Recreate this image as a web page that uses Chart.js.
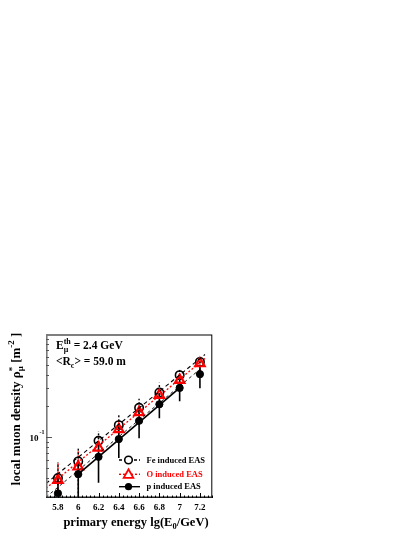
<!DOCTYPE html>
<html>
<head>
<meta charset="utf-8">
<script src="https://cdn.jsdelivr.net/npm/chart.js@4.4.1/dist/chart.umd.min.js"></script>
<style>
html,body{margin:0;padding:0;background:#fff;}
canvas{display:block;}
</style>
</head>
<body>
<canvas id="c" width="415" height="537"></canvas>
<script>
// ---------------- data ----------------
const energies = [5.8, 6.0, 6.2, 6.4, 6.6, 6.8, 7.0, 7.2];

const feValues = [0.0403, 0.0585, 0.0927, 0.1316, 0.194, 0.273, 0.403, 0.542];
const feUpper  = [0.057, 0.081, 0.115, 0.168, 0.237, 0.339, 0.460, 0.615];
const feLower  = [0.036, 0.052, 0.080, 0.120, 0.176, 0.258, 0.362, 0.524];

const oValues  = [0.0385, 0.0519, 0.0793, 0.1196, 0.175, 0.257, 0.360, 0.523];
const oUpper   = [0.058, 0.075, 0.100, 0.149, 0.214, 0.299, 0.418, 0.584];
const oLower   = [0.020, 0.020, 0.062, 0.098, 0.150, 0.215, 0.310, 0.440];

const pValues  = [0.0286, 0.044, 0.0648, 0.0963, 0.145, 0.210, 0.303, 0.412];
const pUpper   = [0.040, 0.060, 0.088, 0.130, 0.190, 0.270, 0.380, 0.510];
const pLower   = [0.020, 0.020, 0.0362, 0.063, 0.098, 0.154, 0.225, 0.301];

// fitted lines (end points)
const feFitX = [5.682, 7.25];  const feFitY = [0.0357, 0.640];
const oFitX  = [5.682, 7.25];  const oFitY  = [0.0320, 0.585];
const lowFitX = [5.682, 7.21]; const lowFitY = [0.0263, 0.468];
const pLineX = [6.0, 7.0];     const pLineY = [0.044, 0.303];

// axes
const xMin = 5.682, xMax = 7.322;
const yMin = 0.0258, yMax = 1.0;
const xTickValues = [5.8, 6.0, 6.2, 6.4, 6.6, 6.8, 7.0, 7.2];
const xTickLabels = ['5.8', '6', '6.2', '6.4', '6.6', '6.8', '7', '7.2'];
const yMajorTicks = [0.1];
const yMinorTicks = [0.03,0.04,0.05,0.06,0.07,0.08,0.09,0.2,0.3,0.4,0.5,0.6,0.7,0.8,0.9];

const legendLabels = ['Fe induced EAS', 'O induced EAS', 'p induced EAS'];

// ---------------- helpers ----------------
function pts(xs, ys){ return xs.map((x,i)=>({x:x, y:ys[i]})); }
const SERIF = '"Liberation Serif","DejaVu Serif",serif';
function f(sz){ return 'bold ' + sz + 'px ' + SERIF; }

function richWidth(ctx, segs){
  let w = 0;
  segs.forEach(s=>{
    if (s.stack){ let m=0; s.stack.forEach(q=>{ctx.font=f(q.sz); m=Math.max(m, ctx.measureText(q.t).width);}); w+=m; }
    else { ctx.font=f(s.sz); w += ctx.measureText(s.t).width; }
  });
  return w;
}
function drawRich(ctx, x, y, segs, color){
  ctx.fillStyle = color || '#000';
  ctx.textAlign = 'left';
  ctx.textBaseline = 'alphabetic';
  let cx = x;
  segs.forEach(s=>{
    if (s.stack){
      let m=0;
      s.stack.forEach(q=>{ ctx.font=f(q.sz); ctx.fillText(q.t, cx, y+q.dy); m=Math.max(m, ctx.measureText(q.t).width); });
      cx += m;
    } else {
      ctx.font=f(s.sz); ctx.fillText(s.t, cx, y+(s.dy||0)); cx += ctx.measureText(s.t).width;
    }
  });
}

// ---------------- plugins ----------------
const errorBarPlugin = {
  id: 'errbars',
  beforeDatasetsDraw(chart){
    const ctx = chart.ctx, xs = chart.scales.x, ys = chart.scales.y, a = chart.chartArea;
    ctx.save();
    ctx.beginPath(); ctx.rect(a.left, a.top, a.right-a.left, a.bottom-a.top); ctx.clip();
    const groups = [
      {lo:oLower, hi:oUpper, color:'#ff0000', dash:[2,2], w:1.6},
      {lo:feLower, hi:feUpper, color:'#000', dash:[2,2], w:1.4},
      {lo:pLower, hi:pUpper, color:'#000', dash:[], w:1.6},
    ];
    groups.forEach(g=>{
      ctx.strokeStyle = g.color; ctx.lineWidth = g.w; ctx.setLineDash(g.dash);
      energies.forEach((e,i)=>{
        const px = xs.getPixelForValue(e);
        ctx.beginPath();
        ctx.moveTo(px, ys.getPixelForValue(g.lo[i]));
        ctx.lineTo(px, ys.getPixelForValue(g.hi[i]));
        ctx.stroke();
      });
    });
    ctx.restore();
  }
};

const decorPlugin = {
  id: 'decor',
  afterDraw(chart){
    const ctx = chart.ctx, xs = chart.scales.x, ys = chart.scales.y, a = chart.chartArea;
    ctx.save();
    ctx.setLineDash([]);
    // frame
    ctx.strokeStyle = '#000'; ctx.lineWidth = 1;
    ctx.strokeRect(a.left+0.5, a.top+0.5, a.right-a.left-1, a.bottom-a.top-1);
    ctx.strokeStyle = '#777'; ctx.lineWidth = 1.6;
    ctx.beginPath(); ctx.moveTo(a.left+0.8, a.top); ctx.lineTo(a.left+0.8, a.bottom); ctx.stroke();
    ctx.strokeStyle = '#222'; ctx.lineWidth = 1.4;
    ctx.beginPath(); ctx.moveTo(a.left, a.bottom-0.7); ctx.lineTo(a.right, a.bottom-0.7); ctx.stroke();

    // x ticks (inside)
    ctx.strokeStyle = '#000'; ctx.lineWidth = 1;
    xTickValues.forEach(v=>{
      const px = Math.round(xs.getPixelForValue(v))+0.5;
      ctx.beginPath(); ctx.moveTo(px, a.bottom); ctx.lineTo(px, a.bottom-5); ctx.stroke();
    });
    for (let v = 5.72; v < xMax; v += 0.04){
      const px = Math.round(xs.getPixelForValue(v))+0.5;
      ctx.beginPath(); ctx.moveTo(px, a.bottom); ctx.lineTo(px, a.bottom-2.5); ctx.stroke();
    }
    // y ticks (inside)
    ctx.strokeStyle = '#555';
    yMajorTicks.forEach(v=>{
      const py = Math.round(ys.getPixelForValue(v))+0.5;
      ctx.beginPath(); ctx.moveTo(a.left, py); ctx.lineTo(a.left+6, py); ctx.stroke();
    });
    yMinorTicks.forEach(v=>{
      const py = Math.round(ys.getPixelForValue(v))+0.5;
      ctx.beginPath(); ctx.moveTo(a.left, py); ctx.lineTo(a.left+3, py); ctx.stroke();
    });

    // x tick labels
    ctx.fillStyle = '#000'; ctx.font = f(9); ctx.textAlign = 'center'; ctx.textBaseline = 'middle';
    xTickValues.forEach((v,i)=>{ ctx.fillText(xTickLabels[i], xs.getPixelForValue(v), 507.5); });
    // y tick label 10^-1
    const py1 = ys.getPixelForValue(0.1);
    ctx.textAlign = 'right'; ctx.font = f(9); ctx.fillText('10', 38.5, py1+1);
    ctx.textAlign = 'left'; ctx.font = f(6); ctx.fillText('-1', 39.5, py1-5);

    // x title
    const xt = [{t:'primary energy lg(E', sz:12.5},{t:'0', sz:8.5, dy:3},{t:'/GeV)', sz:12.5}];
    const xw = richWidth(ctx, xt);
    drawRich(ctx, 136 - xw/2, 526, xt);

    // y title (rotated)
    const yt = [{t:'local muon density \u03c1', sz:13},
                {stack:[{t:'*', sz:9, dy:-5},{t:'\u03bc', sz:9, dy:3}]},
                {t:' [m', sz:13},{t:'-2', sz:9, dy:-6},{t:' ]', sz:13}];
    const yw = richWidth(ctx, yt);
    ctx.save();
    ctx.translate(19.5, 409);
    ctx.rotate(-Math.PI/2);
    drawRich(ctx, -yw/2, 0, yt);
    ctx.restore();

    // in-plot text
    drawRich(ctx, 56, 348.5, [{t:'E', sz:11.5},{stack:[{t:'th', sz:8, dy:-4.5},{t:'\u03bc', sz:8, dy:3}]},{t:' = 2.4 GeV', sz:11.5}]);
    drawRich(ctx, 56, 365, [{t:'<R', sz:11.5},{t:'c', sz:8, dy:3},{t:'> = 59.0 m', sz:11.5}]);

    // legend
    const rows = [
      {y:460, color:'#000', text:'#000', dash:[3,2], marker:'circle'},
      {y:474.3, color:'#ff0000', text:'#ff0000', dash:[2,2], marker:'triangle'},
      {y:486.7, color:'#000', text:'#000', dash:[], marker:'dot'},
    ];
    rows.forEach((r,i)=>{
      ctx.strokeStyle = r.color; ctx.lineWidth = 1.4; ctx.setLineDash(r.dash);
      ctx.beginPath(); ctx.moveTo(119, r.y); ctx.lineTo(140, r.y); ctx.stroke();
      ctx.setLineDash([]);
      const mx = 128.5;
      if (r.marker==='circle'){
        ctx.fillStyle='#fff'; ctx.lineWidth=1.6; ctx.beginPath(); ctx.arc(mx, r.y, 3.8, 0, Math.PI*2); ctx.fill(); ctx.stroke();
      } else if (r.marker==='triangle'){
        ctx.fillStyle='#fff'; ctx.lineWidth=1.8; ctx.beginPath();
        ctx.moveTo(mx, r.y-5); ctx.lineTo(mx+4.8, r.y+3.5); ctx.lineTo(mx-4.8, r.y+3.5); ctx.closePath(); ctx.fill(); ctx.stroke();
      } else {
        ctx.fillStyle='#000'; ctx.beginPath(); ctx.arc(mx, r.y, 3.6, 0, Math.PI*2); ctx.fill();
      }
      ctx.fillStyle = r.text; ctx.font = f(8.5); ctx.textAlign='left'; ctx.textBaseline='middle';
      ctx.fillText(legendLabels[i], 146.5, r.y+0.5);
    });
    ctx.restore();
  }
};

// ---------------- chart ----------------
new Chart(document.getElementById('c'), {
  type: 'scatter',
  data: {
    datasets: [
      {label:'Fe fit', type:'line', data:pts(feFitX, feFitY), borderColor:'#000', borderWidth:1.1, borderDash:[4,3], pointRadius:0, fill:false},
      {label:'O fit', type:'line', data:pts(oFitX, oFitY), borderColor:'#ff0000', borderWidth:1.3, borderDash:[2,2], pointRadius:0, fill:false},
      {label:'low fit', type:'line', data:pts(lowFitX, lowFitY), borderColor:'#000', borderWidth:0.9, borderDash:[3,3], pointRadius:0, fill:false},
      {label:'p line', type:'line', data:pts(pLineX, pLineY), borderColor:'#000', borderWidth:1.6, pointRadius:0, fill:false},
      {label:legendLabels[2], data:pts(energies, pValues), pointStyle:'circle', pointRadius:3.6, backgroundColor:'#000', borderColor:'#000', borderWidth:1},
      {label:legendLabels[1], data:pts(energies, oValues), pointStyle:'triangle', pointRadius:5.5, backgroundColor:'rgba(255,255,255,0)', borderColor:'#ff0000', borderWidth:2.2},
      {label:legendLabels[0], data:pts(energies, feValues), pointStyle:'circle', pointRadius:4.2, backgroundColor:'rgba(255,255,255,0)', borderColor:'#000', borderWidth:1.6},
    ]
  },
  options: {
    responsive: false,
    animation: false,
    devicePixelRatio: 1,
    layout: { padding: { left: 46, right: 202.7, top: 334.5, bottom: 39 } },
    plugins: { legend: {display:false}, tooltip: {enabled:false} },
    scales: {
      x: { type:'linear', min:xMin, max:xMax, display:false },
      y: { type:'logarithmic', min:yMin, max:yMax, display:false }
    }
  },
  plugins: [errorBarPlugin, decorPlugin]
});
</script>
</body>
</html>
